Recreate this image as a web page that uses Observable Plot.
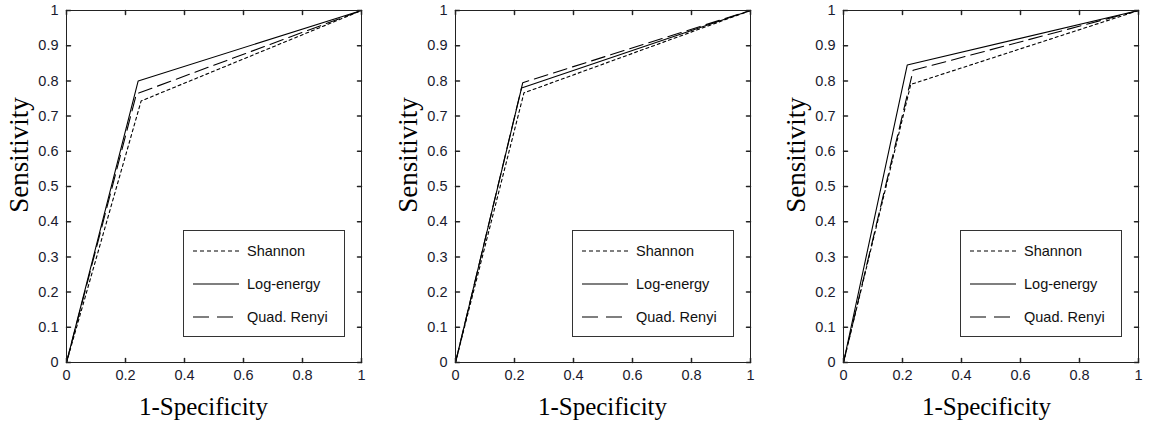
<!DOCTYPE html>
<html>
<head>
<meta charset="utf-8">
<script src="https://cdn.jsdelivr.net/npm/d3@7"></script>
<script src="https://cdn.jsdelivr.net/npm/@observablehq/plot@0.6"></script>
<style>
  html, body { margin: 0; padding: 0; background: #fff; }
  #wrap { position: relative; width: 1150px; height: 428px; overflow: hidden; }
  .panel { position: absolute; top: 0; width: 383px; height: 428px; }
  .panel svg { position: absolute; left: 0; top: 0; }
  .xlab { position: absolute; font-family: "Liberation Serif", "Times New Roman", serif; font-size: 25px; line-height: 1; color: #000; white-space: nowrap; transform: translateX(-50%); }
  .ylab { position: absolute; font-family: "Liberation Serif", "Times New Roman", serif; font-size: 27px; line-height: 1; color: #000; white-space: nowrap; transform: translate(-50%, -50%) rotate(-90deg); }
  .legend { position: absolute; border: 1px solid #333; background: #fff; box-sizing: border-box; font-family: "Liberation Sans", Arial, sans-serif; font-size: 14.5px; color: #111; }
  .legend .row { position: absolute; left: 0; height: 16px; display: flex; align-items: center; }
  .legend .row svg { position: static; }
  .legend .row span { margin-left: 8px; }
</style>
</head>
<body>
<div id="wrap"></div>
<script>
// ---------- data ----------
const seriesNames = ["Shannon", "Log-energy", "Quad. Renyi"];
const rocStart = [0, 0];
const rocEnd = [1, 1];
// knee points (1-Specificity, Sensitivity) per series: Shannon, Log-energy, Quad. Renyi
const panelAKneeX = [0.253, 0.243, 0.237];
const panelAKneeY = [0.743, 0.800, 0.763];
const panelBKneeX = [0.232, 0.224, 0.228];
const panelBKneeY = [0.766, 0.780, 0.795];
const panelCKneeX = [0.228, 0.216, 0.236];
const panelCKneeY = [0.790, 0.845, 0.830];
const xTicks = [0, 0.2, 0.4, 0.6, 0.8, 1];
const yTicks = [0, 0.1, 0.2, 0.3, 0.4, 0.5, 0.6, 0.7, 0.8, 0.9, 1];
const xLabel = "1-Specificity";
const yLabel = "Sensitivity";

// ---------- styles ----------
const dashes = { "Shannon": "3,3", "Log-energy": null, "Quad. Renyi": "14,6" };
const legendDashes = { "Shannon": "4,3", "Log-energy": null, "Quad. Renyi": "16,8" };
const panelLefts = [0, 389, 777];
const xLabelShift = [-10, 0, -4];
const W = 383, H = 428;
const mL = 66, mR = 22, mT = 10, mB = 66;

const tickShape = { draw(context, l) { context.moveTo(0, 0); context.lineTo(0, -l); } };

function buildRows(kx, ky) {
  const rows = [];
  seriesNames.forEach((s, i) => {
    rows.push({ series: s, x: rocStart[0], y: rocStart[1] });
    rows.push({ series: s, x: kx[i], y: ky[i] });
    rows.push({ series: s, x: rocEnd[0], y: rocEnd[1] });
  });
  return rows;
}

const panels = [
  buildRows(panelAKneeX, panelAKneeY),
  buildRows(panelBKneeX, panelBKneeY),
  buildRows(panelCKneeX, panelCKneeY)
];

const wrap = document.getElementById("wrap");
const fmt = d3.format("~g");

panels.forEach((rows, pi) => {
  const div = document.createElement("div");
  div.className = "panel";
  div.style.left = panelLefts[pi] + "px";
  wrap.appendChild(div);

  const marks = [];
  seriesNames.forEach(s => {
    marks.push(Plot.line(rows.filter(r => r.series === s), {
      x: "x", y: "y", stroke: "#000", strokeWidth: 1.1,
      strokeDasharray: dashes[s] || undefined
    }));
  });
  marks.push(Plot.frame({ stroke: "#222", strokeWidth: 1 }));
  const tk = { length: 4, anchor: "start", shape: tickShape, stroke: "#222" };
  marks.push(Plot.vectorX(xTicks, { x: d => d, frameAnchor: "bottom", rotate: 0, ...tk }));
  marks.push(Plot.vectorX(xTicks, { x: d => d, frameAnchor: "top", rotate: 180, ...tk }));
  marks.push(Plot.vectorY(yTicks, { y: d => d, frameAnchor: "left", rotate: 90, ...tk }));
  marks.push(Plot.vectorY(yTicks, { y: d => d, frameAnchor: "right", rotate: -90, ...tk }));
  marks.push(Plot.axisX(xTicks, { tickSize: 0, tickPadding: 7, tickFormat: fmt, label: null, fontSize: 14.5, fill: "#1a1a2e" }));
  marks.push(Plot.axisY(yTicks, { tickSize: 0, tickPadding: 8, tickFormat: fmt, label: null, fontSize: 14.5, fill: "#1a1a2e" }));

  const svg = Plot.plot({
    width: W, height: H,
    marginLeft: mL, marginRight: mR, marginTop: mT, marginBottom: mB,
    x: { domain: [0, 1] },
    y: { domain: [0, 1] },
    style: { fontFamily: "'Liberation Sans', Arial, sans-serif", background: "transparent", color: "#000" },
    marks
  });
  div.appendChild(svg);

  const xl = document.createElement("div");
  xl.className = "xlab";
  xl.textContent = xLabel;
  xl.style.left = (mL + (W - mL - mR) / 2 + xLabelShift[pi]) + "px";
  xl.style.top = "394px";
  div.appendChild(xl);

  const yl = document.createElement("div");
  yl.className = "ylab";
  yl.textContent = yLabel;
  yl.style.left = "19px";
  yl.style.top = "155px";
  div.appendChild(yl);

  const lg = document.createElement("div");
  lg.className = "legend";
  lg.style.left = (mL + 117) + "px";
  lg.style.top = "230px";
  lg.style.width = "162px";
  lg.style.height = "107px";
  seriesNames.forEach((s, i) => {
    const row = document.createElement("div");
    row.className = "row";
    row.style.top = (12 + i * 33) + "px";
    row.style.left = "9px";
    const ns = "http://www.w3.org/2000/svg";
    const ls = document.createElementNS(ns, "svg");
    ls.setAttribute("width", "46");
    ls.setAttribute("height", "16");
    const ln = document.createElementNS(ns, "line");
    ln.setAttribute("x1", "0"); ln.setAttribute("x2", "46");
    ln.setAttribute("y1", "8"); ln.setAttribute("y2", "8");
    ln.setAttribute("stroke", "#000"); ln.setAttribute("stroke-width", "1.1");
    if (legendDashes[s]) ln.setAttribute("stroke-dasharray", legendDashes[s]);
    ls.appendChild(ln);
    row.appendChild(ls);
    const sp = document.createElement("span");
    sp.textContent = s;
    row.appendChild(sp);
    lg.appendChild(row);
  });
  div.appendChild(lg);
});
</script>
</body>
</html>
